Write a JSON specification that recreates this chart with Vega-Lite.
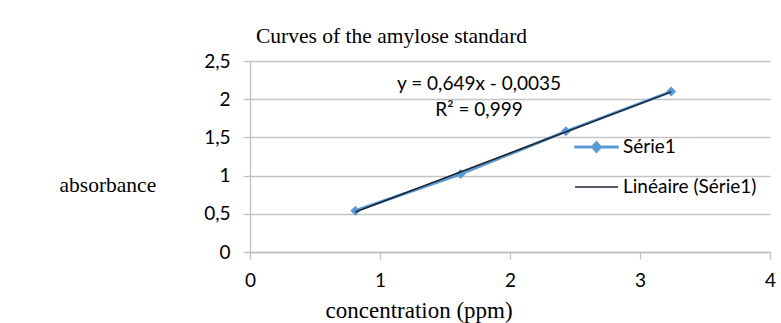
{
  "$schema": "https://vega.github.io/schema/vega-lite/v6.json",
  "width": 520,
  "height": 191,
  "autosize": {"type": "none"},
  "padding": {"left": 250, "top": 61, "right": 11, "bottom": 71},
  "background": "white",
  "title": {
    "text": "Curves of the amylose standard",
    "anchor": "start",
    "frame": "group",
    "dx": 6,
    "dy": 12,
    "offset": 0,
    "baseline": "alphabetic",
    "font": "Liberation Serif",
    "fontSize": 21.5,
    "fontWeight": "normal",
    "color": "#000000"
  },
  "data": {
    "values": [
      {"concentration": 0.81, "absorbance": 0.54},
      {"concentration": 1.62, "absorbance": 1.02},
      {"concentration": 2.43, "absorbance": 1.58},
      {"concentration": 3.24, "absorbance": 2.1}
    ]
  },
  "layer": [
    {
      "mark": {"type": "line", "strokeWidth": 3},
      "encoding": {
        "x": {
          "field": "concentration",
          "type": "quantitative",
          "scale": {"domain": [0, 4], "nice": false, "zero": false},
          "axis": {
            "title": "concentration (ppm)",
            "values": [0, 1, 2, 3, 4],
            "tickCount": 20,
            "format": "d",
            "grid": false,
            "labelFlush": false,
            "domainColor": "#bfbfbf",
            "domainWidth": 1.3,
            "tickColor": "#bfbfbf",
            "tickWidth": 1.3,
            "tickSize": 7,
            "labelFont": "Lato",
            "labelFontSize": 19,
            "labelColor": "#000000",
            "labelPadding": 12,
            "titleFont": "Liberation Serif",
            "titleFontSize": 23,
            "titleFontWeight": "normal",
            "titleColor": "#000000",
            "titleAlign": "left",
            "titleBaseline": "alphabetic",
            "titleX": 75,
            "titleY": 65
          }
        },
        "y": {
          "field": "absorbance",
          "type": "quantitative",
          "scale": {"domain": [0, 2.5], "nice": false},
          "axis": {
            "title": "absorbance",
            "values": [0, 0.5, 1, 1.5, 2, 2.5],
            "tickCount": 20,
            "format": "~g",
            "labelExpr": "replace(datum.label, '.', ',')",
            "labelOverlap": false,
            "grid": true,
            "gridColor": "#c4c4c4",
            "gridWidth": 1.3,
            "domainColor": "#bfbfbf",
            "domainWidth": 1.3,
            "tickColor": "#bfbfbf",
            "tickWidth": 1.3,
            "tickSize": 7,
            "labelFont": "Lato",
            "labelFontSize": 19,
            "labelColor": "#000000",
            "labelPadding": 13,
            "titleFont": "Liberation Serif",
            "titleFontSize": 21.5,
            "titleFontWeight": "normal",
            "titleColor": "#000000",
            "titleAngle": 0,
            "titleAlign": "left",
            "titleBaseline": "alphabetic",
            "titleX": -191,
            "titleY": 130
          }
        },
        "color": {
          "datum": "Série1",
          "type": "nominal",
          "scale": {
            "domain": ["Série1", "Linéaire (Série1)"],
            "range": ["#5b9bd5", "#1c2433"]
          },
          "legend": {
            "orient": "none",
            "legendX": 324,
            "legendY": 63.5,
            "title": null,
            "padding": 0,
            "symbolType": "M-1,0L1,0",
            "symbolSize": 1849,
            "symbolStrokeWidth": 1.4,
            "rowPadding": 7,
            "labelFont": "Lato",
            "labelFontSize": 19,
            "labelColor": "#000000",
            "labelOffset": 4,
            "labelLimit": 400,
            "encode": {
              "symbols": {
                "update": {
                  "size": {"value": 1849},
                  "strokeWidth": {"value": 1.4},
                  "shape": {"signal": "datum.value === 'Série1' ? 'M-1,-0.035L1,-0.035L1,0.035L-1,0.035ZM0,-0.25L0.23,0L0,0.25L-0.23,0Z' : 'M-1,0L1,0'"},
                  "fill": {"signal": "datum.value === 'Série1' ? '#5b9bd5' : 'transparent'"}
                }
              }
            }
          }
        }
      }
    },
    {
      "mark": {"type": "point", "shape": "diamond", "filled": true, "size": 100, "opacity": 1, "color": "#5b9bd5"},
      "encoding": {
        "x": {"field": "concentration", "type": "quantitative"},
        "y": {"field": "absorbance", "type": "quantitative"}
      }
    },
    {
      "transform": [{"regression": "absorbance", "on": "concentration"}],
      "mark": {"type": "line", "strokeWidth": 1.5},
      "encoding": {
        "x": {"field": "concentration", "type": "quantitative"},
        "y": {"field": "absorbance", "type": "quantitative"},
        "color": {"datum": "Linéaire (Série1)", "type": "nominal"}
      }
    },
    {
      "data": {"values": [{"label": "y = 0,649x - 0,0035"}]},
      "mark": {"type": "text", "font": "Lato", "fontSize": 19, "align": "center", "baseline": "alphabetic", "color": "#000000"},
      "encoding": {
        "x": {"datum": 1.762, "type": "quantitative"},
        "y": {"datum": 2.12, "type": "quantitative"},
        "text": {"field": "label"}
      }
    },
    {
      "data": {"values": [{"label": "R² = 0,999"}]},
      "mark": {"type": "text", "font": "Lato", "fontSize": 19, "align": "center", "baseline": "alphabetic", "color": "#000000"},
      "encoding": {
        "x": {"datum": 1.762, "type": "quantitative"},
        "y": {"datum": 1.78, "type": "quantitative"},
        "text": {"field": "label"}
      }
    }
  ],
  "config": {
    "view": {"stroke": null},
    "font": "Lato"
  }
}
